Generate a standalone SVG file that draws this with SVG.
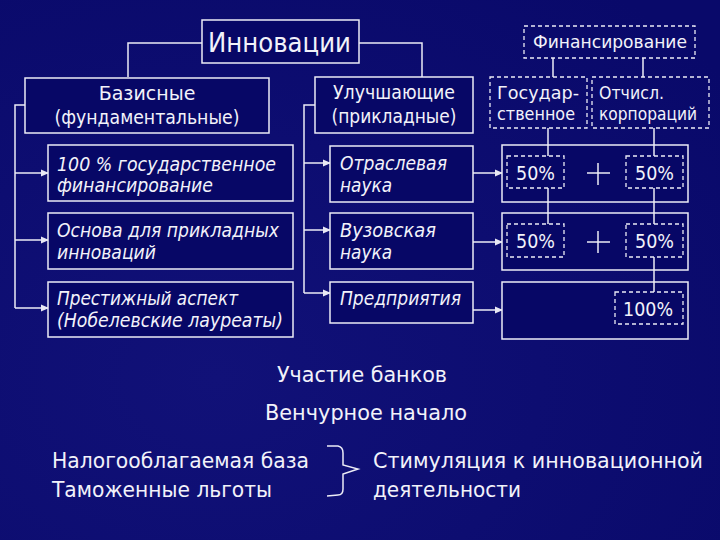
<svg xmlns="http://www.w3.org/2000/svg" width="720" height="540" viewBox="0 0 720 540">
<defs>
<marker id="ah" markerWidth="8" markerHeight="8" refX="7" refY="4" orient="auto" markerUnits="userSpaceOnUse">
<path d="M0,0.5 L8,4 L0,7.5 z" fill="#e8e8f4"/>
</marker>
<radialGradient id="bg" cx="0.3" cy="0.7" r="0.9">
<stop offset="0" stop-color="#111178"/>
<stop offset="1" stop-color="#09096a"/>
</radialGradient>
</defs>
<style>
.box{fill:#070766;stroke:#ececf6;stroke-width:1.5}
.dbox{fill:none;stroke:#ececf6;stroke-width:1.3;stroke-dasharray:4 3}
.ln{fill:none;stroke:#ececf6;stroke-width:1.5}
.t{fill:#f2f2fa;font-family:"DejaVu Sans","Liberation Sans",sans-serif}
.i{fill:#f2f2fa;font-family:"DejaVu Sans","Liberation Sans",sans-serif;font-style:italic}
</style>
<rect width="720" height="540" fill="url(#bg)"/>

<g id="connectors">
<polyline class="ln" points="202,43 128,43 128,77"/>
<polyline class="ln" points="359,43 422,43 422,77"/>
<polyline class="ln" points="25,105 15,105 15,308"/>
<line class="ln" x1="15" y1="173" x2="48" y2="173" marker-end="url(#ah)"/>
<line class="ln" x1="15" y1="240" x2="48" y2="240" marker-end="url(#ah)"/>
<line class="ln" x1="15" y1="308" x2="48" y2="308" marker-end="url(#ah)"/>
<polyline class="ln" points="315,105 304,105 304,293"/>
<line class="ln" x1="304" y1="163" x2="330" y2="163" marker-end="url(#ah)"/>
<line class="ln" x1="304" y1="230" x2="330" y2="230" marker-end="url(#ah)"/>
<line class="ln" x1="304" y1="293" x2="330" y2="293" marker-end="url(#ah)"/>
<line class="ln" x1="473" y1="173" x2="502" y2="173" marker-end="url(#ah)"/>
<line class="ln" x1="473" y1="242" x2="502" y2="242" marker-end="url(#ah)"/>
<line class="ln" x1="473" y1="310" x2="502" y2="310" marker-end="url(#ah)"/>
<line class="ln" x1="553" y1="58" x2="553" y2="77"/>
<line class="ln" x1="643" y1="58" x2="643" y2="77"/>
</g>

<g id="innovations"><rect class="box" x="202" y="20" width="157" height="43"/>
<text class="t" x="208" y="52" font-size="26" textLength="143" lengthAdjust="spacingAndGlyphs">Инновации</text></g>

<g id="basic"><rect class="box" x="25" y="78" width="244" height="55"/>
<text class="t" x="147" y="100" font-size="19" text-anchor="middle">Базисные</text>
<text class="t" x="147" y="124" font-size="19" text-anchor="middle" textLength="185" lengthAdjust="spacingAndGlyphs">(фундаментальные)</text></g>

<g id="applied"><rect class="box" x="315" y="77" width="158" height="56"/>
<text class="t" x="394" y="99" font-size="19" text-anchor="middle" textLength="122" lengthAdjust="spacingAndGlyphs">Улучшающие</text>
<text class="t" x="394" y="123" font-size="19" text-anchor="middle" textLength="125" lengthAdjust="spacingAndGlyphs">(прикладные)</text></g>

<g id="b1"><rect class="box" x="48" y="145" width="245" height="56"/>
<text class="i" x="57" y="171" font-size="19" textLength="219" lengthAdjust="spacingAndGlyphs">100 % государственное</text>
<text class="i" x="57" y="192" font-size="19" textLength="156" lengthAdjust="spacingAndGlyphs">финансирование</text></g>

<g id="b2"><rect class="box" x="48" y="213" width="245" height="56"/>
<text class="i" x="57" y="237" font-size="19" textLength="222" lengthAdjust="spacingAndGlyphs">Основа для прикладных</text>
<text class="i" x="57" y="259" font-size="19" textLength="99" lengthAdjust="spacingAndGlyphs">инноваций</text></g>

<g id="b3"><rect class="box" x="48" y="282" width="245" height="55"/>
<text class="i" x="57" y="305" font-size="19" textLength="181" lengthAdjust="spacingAndGlyphs">Престижный аспект</text>
<text class="i" x="57" y="327" font-size="19" textLength="226" lengthAdjust="spacingAndGlyphs">(Нобелевские лауреаты)</text></g>

<g id="a1"><rect class="box" x="330" y="146" width="143" height="56"/>
<text class="i" x="340" y="170" font-size="19" textLength="107" lengthAdjust="spacingAndGlyphs">Отраслевая</text>
<text class="i" x="340" y="192" font-size="19" textLength="52" lengthAdjust="spacingAndGlyphs">наука</text></g>

<g id="a2"><rect class="box" x="330" y="213" width="143" height="56"/>
<text class="i" x="340" y="237" font-size="19" textLength="96" lengthAdjust="spacingAndGlyphs">Вузовская</text>
<text class="i" x="340" y="259" font-size="19" textLength="52" lengthAdjust="spacingAndGlyphs">наука</text></g>

<g id="a3"><rect class="box" x="330" y="282" width="143" height="41"/>
<text class="i" x="340" y="305" font-size="19" textLength="121" lengthAdjust="spacingAndGlyphs">Предприятия</text></g>

<g id="financing"><rect class="dbox" x="524" y="26" width="171" height="32"/>
<text class="t" x="533" y="48" font-size="17" textLength="154" lengthAdjust="spacingAndGlyphs">Финансирование</text></g>

<g id="state"><rect class="dbox" x="490" y="77" width="97" height="51"/>
<text class="t" x="497" y="99" font-size="17" textLength="82" lengthAdjust="spacingAndGlyphs">Государ-</text>
<text class="t" x="497" y="120" font-size="17" textLength="78" lengthAdjust="spacingAndGlyphs">ственное</text></g>

<g id="corp"><rect class="dbox" x="592" y="77" width="117" height="51"/>
<text class="t" x="599" y="99" font-size="17" textLength="65" lengthAdjust="spacingAndGlyphs">Отчисл.</text>
<text class="t" x="599" y="120" font-size="17" textLength="98" lengthAdjust="spacingAndGlyphs">корпораций</text></g>

<g id="r1"><rect class="box" x="502" y="145" width="186" height="57"/>
<line class="ln" x1="548" y1="128" x2="548" y2="156"/>
<line class="ln" x1="654" y1="128" x2="654" y2="156"/>
<line class="ln" x1="587" y1="173" x2="610" y2="173"/>
<line class="ln" x1="598" y1="163" x2="598" y2="185"/>
<rect class="dbox" x="507" y="156" width="57" height="32"/>
<text class="t" x="516" y="180" font-size="20" textLength="39" lengthAdjust="spacingAndGlyphs">50%</text>
<rect class="dbox" x="626" y="156" width="57" height="32"/>
<text class="t" x="635" y="180" font-size="20" textLength="39" lengthAdjust="spacingAndGlyphs">50%</text></g>

<g id="r2"><rect class="box" x="502" y="213" width="186" height="57"/>
<line class="ln" x1="548" y1="188" x2="548" y2="224"/>
<line class="ln" x1="654" y1="188" x2="654" y2="224"/>
<line class="ln" x1="587" y1="242" x2="610" y2="242"/>
<line class="ln" x1="598" y1="231" x2="598" y2="253"/>
<rect class="dbox" x="507" y="224" width="57" height="33"/>
<text class="t" x="516" y="248" font-size="20" textLength="39" lengthAdjust="spacingAndGlyphs">50%</text>
<rect class="dbox" x="626" y="224" width="57" height="33"/>
<text class="t" x="635" y="248" font-size="20" textLength="39" lengthAdjust="spacingAndGlyphs">50%</text></g>

<g id="r3"><rect class="box" x="502" y="282" width="186" height="57"/>
<line class="ln" x1="654" y1="257" x2="654" y2="292"/>
<rect class="dbox" x="615" y="292" width="68" height="32"/>
<text class="t" x="623" y="316" font-size="20" textLength="50" lengthAdjust="spacingAndGlyphs">100%</text></g>

<g id="bottom">
<text class="t" x="277" y="382" font-size="21" textLength="170" lengthAdjust="spacingAndGlyphs">Участие банков</text>
<text class="t" x="265" y="420" font-size="21" textLength="202" lengthAdjust="spacingAndGlyphs">Венчурное начало</text>
<text class="t" x="52" y="468" font-size="21" textLength="257" lengthAdjust="spacingAndGlyphs">Налогооблагаемая база</text>
<text class="t" x="52" y="497" font-size="21" textLength="220" lengthAdjust="spacingAndGlyphs">Таможенные льготы</text>
<text class="t" x="373" y="468" font-size="21" textLength="330" lengthAdjust="spacingAndGlyphs">Стимуляция к инновационной</text>
<text class="t" x="373" y="497" font-size="21" textLength="148" lengthAdjust="spacingAndGlyphs">деятельности</text>
<path class="ln" d="M327,446 L338,446 Q343,447 343,453 L343,465 L358,469 L343,474 L343,489 Q343,495 338,495 L327,496"/>
</g>
</svg>
